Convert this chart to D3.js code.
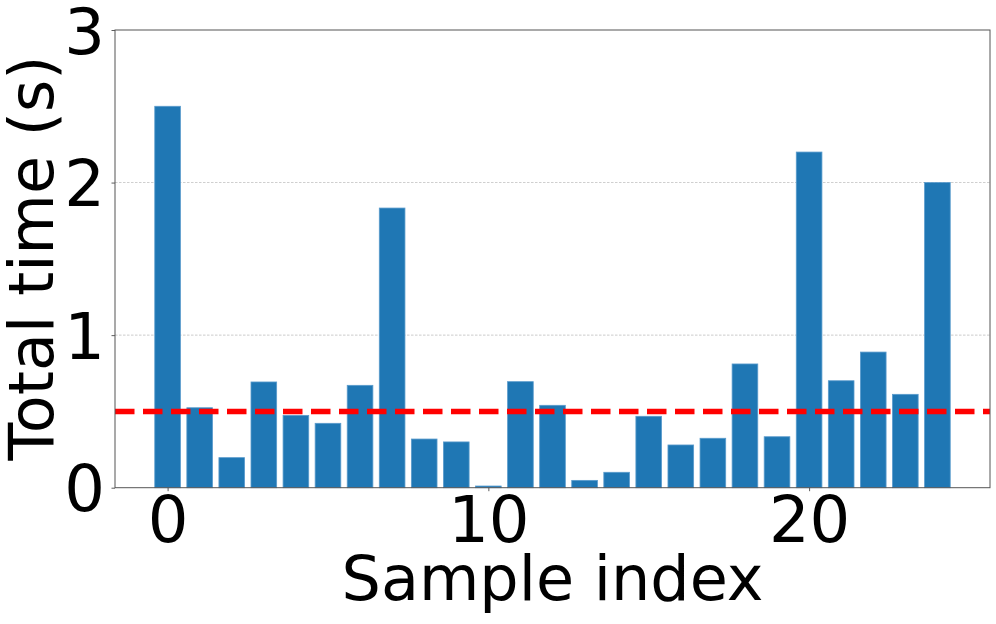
<!DOCTYPE html>
<html>
<head>
<meta charset="utf-8">
<script src="https://cdn.jsdelivr.net/npm/d3@7"></script>
<style>
  body { margin: 0; background: #fff; }
  svg { display: block; font-family: "DejaVu Sans", sans-serif; }
</style>
</head>
<body>
<svg id="chart" width="996" height="624"></svg>
<script>
// total time per sample (s)
const sampleIdx = d3.range(25);
const totalTime = [2.50, 0.524, 0.197, 0.693, 0.474, 0.422, 0.671, 1.833, 0.319, 0.300,
                   0.011, 0.695, 0.540, 0.048, 0.101, 0.468, 0.280, 0.324, 0.811, 0.334,
                   2.200, 0.701, 0.889, 0.612, 2.00];
const threshold = 0.5;
const xTicks = [0, 10, 20];
const yTicks = [0, 1, 2, 3];

const svg = d3.select("#chart");
const m = { left: 115, right: 990, top: 30, bottom: 487.7 };

// matplotlib-like margins: bars are 0.8 wide, 5% padding
const x = d3.scaleLinear().domain([-1.64, 25.64]).range([m.left, m.right]);
const y = d3.scaleLinear().domain([0, 3]).range([m.bottom, m.top]);
const barW = x(0.8) - x(0);

// grid
svg.append("g")
  .selectAll("line")
  .data([1, 2])
  .join("line")
  .attr("x1", m.left).attr("x2", m.right)
  .attr("y1", d => y(d)).attr("y2", d => y(d))
  .attr("stroke", "#b0b0b0")
  .attr("stroke-width", 0.8)
  .attr("stroke-dasharray", "2.5,1.5")
  .attr("opacity", 0.8);

// bars
svg.append("g")
  .selectAll("rect")
  .data(totalTime)
  .join("rect")
  .attr("x", (d, i) => x(sampleIdx[i]) - barW / 2)
  .attr("y", d => y(d))
  .attr("width", barW)
  .attr("height", d => y(0) - y(d))
  .attr("fill", "#1f77b4")
  .attr("stroke", "#5a9bcc")
  .attr("stroke-width", 0.8);

// threshold line
svg.append("line")
  .attr("x1", m.left).attr("x2", m.right)
  .attr("y1", y(threshold)).attr("y2", y(threshold))
  .attr("stroke", "#ff0000")
  .attr("stroke-width", 5.5)
  .attr("stroke-dasharray", "19.5,8.5");

// axes
const xAxis = d3.axisBottom(x).tickValues(xTicks).tickSize(3.5).tickPadding(5).tickFormat(d3.format("d"));
const yAxis = d3.axisLeft(y).tickValues(yTicks).tickSize(3.5).tickPadding(6.5).tickFormat(d3.format("d"));

const gx = svg.append("g").attr("transform", `translate(0,${m.bottom})`).call(xAxis);
const gy = svg.append("g").attr("transform", `translate(${m.left},0)`).call(yAxis);
[gx, gy].forEach(g => {
  g.select(".domain").remove();
  g.selectAll(".tick line").attr("stroke", "#333").attr("stroke-width", 0.8);
  g.selectAll(".tick text")
    .attr("fill", "#000")
    .attr("font-size", "64px")
    .attr("font-family", "'DejaVu Sans', sans-serif");
});
gy.selectAll(".tick text").attr("dy", "0.36em");

// frame
svg.append("rect")
  .attr("x", m.left).attr("y", m.top)
  .attr("width", m.right - m.left).attr("height", m.bottom - m.top)
  .attr("fill", "none")
  .attr("stroke", "#555")
  .attr("stroke-width", 1);

// labels
svg.append("text")
  .attr("x", (m.left + m.right) / 2)
  .attr("y", 600)
  .attr("text-anchor", "middle")
  .attr("font-size", "62px")
  .attr("fill", "#000")
  .text("Sample index");

svg.append("text")
  .attr("transform", `translate(53,258) rotate(-90)`)
  .attr("text-anchor", "middle")
  .attr("font-size", "62px")
  .attr("fill", "#000")
  .text("Total time (s)");
</script>
</body>
</html>
